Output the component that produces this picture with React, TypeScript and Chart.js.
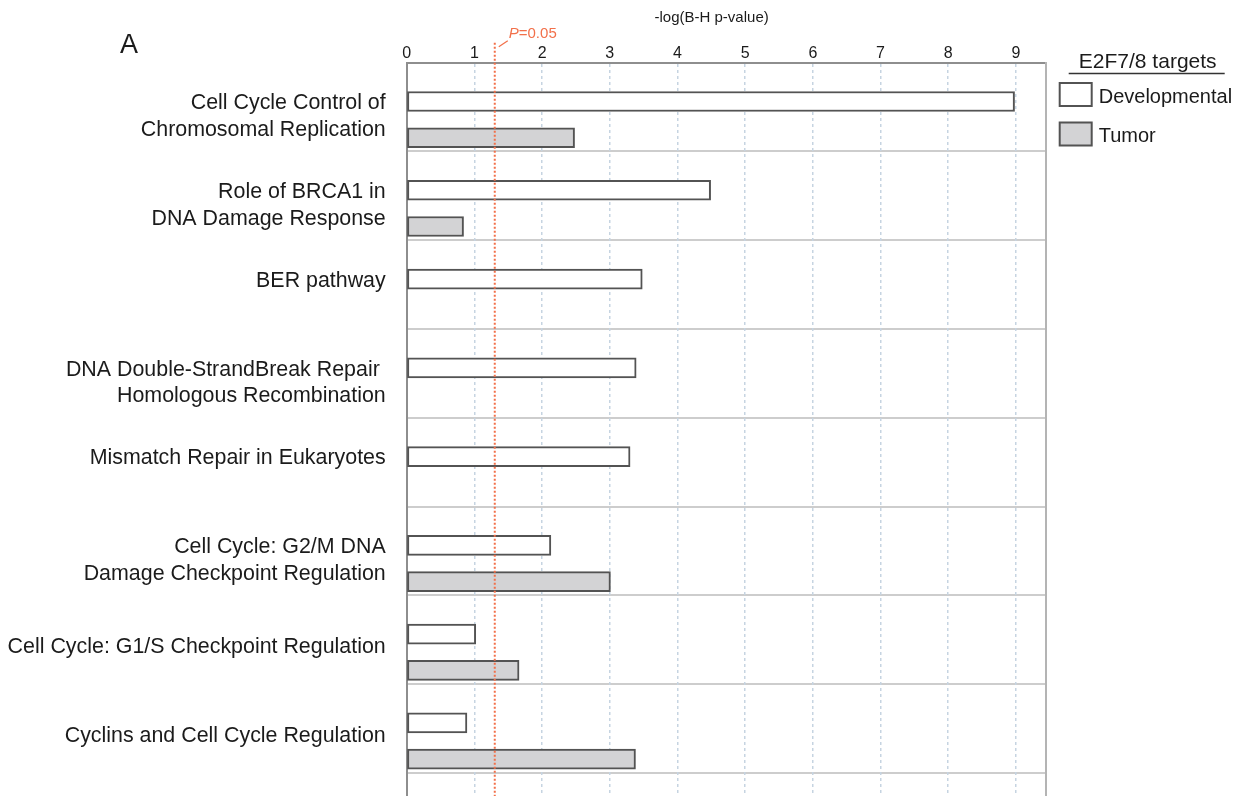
import React, { useEffect, useRef } from "react";
import { Chart, registerables } from "chart.js";

Chart.register(...registerables);

// Canonical pathways (multi-line labels) and their enrichment scores, -log(B-H p-value)
const pathways: string[][] = [
  ["Cell Cycle Control of", "Chromosomal Replication"],
  ["Role of BRCA1 in", "DNA Damage Response"],
  ["BER pathway"],
  ["DNA Double-StrandBreak Repair ", "Homologous Recombination"],
  ["Mismatch Repair in Eukaryotes"],
  ["Cell Cycle: G2/M DNA", "Damage Checkpoint Regulation"],
  ["Cell Cycle: G1/S Checkpoint Regulation"],
  ["Cyclins and Cell Cycle Regulation"],
];
const developmental: (number | null)[] = [8.98, 4.49, 3.48, 3.39, 3.3, 2.13, 1.02, 0.89];
const tumor: (number | null)[] = [2.48, 0.84, null, null, null, 3.01, 1.66, 3.38];
const seriesNames = ["Developmental", "Tumor"];
const xTicks = [0, 1, 2, 3, 4, 5, 6, 7, 8, 9];
const threshold = 1.301; // -log10(0.05)
const thresholdLabel = ["P", "=0.05"];
const axisTitle = "-log(B-H p-value)";
const legendTitle = "E2F7/8 targets";
const panelLetter = "A";

// Layout (row units on the vertical scale, pixels elsewhere)
const X_MAX = 9.44;
const Y_MAX = 8.26;
const DEV_OFFSET = 0.437;
const TUMOR_OFFSET = 0.845;
const FONT = '"Liberation Sans", Arial, Helvetica, sans-serif';
const TEXT = "#1b1b1b";
const ORANGE = "#f2704a";
const BAR_EDGE = "#535353";
const TUMOR_FILL = "#d3d3d5";

const labelPosition = (i: number) => {
  const lines = pathways[i].length;
  if (lines > 1) return i + 0.61;
  return i + (tumor[i] == null ? 0.455 : 0.58);
};

const toPoints = (values: (number | null)[], offset: number) =>
  values
    .map((v, i) => (v == null ? null : { x: v, y: i + offset }))
    .filter((p) => p !== null) as { x: number; y: number }[];

// fixes an axis' thickness and drops the label-overflow padding Chart.js adds
const fixSize = (prop: "width" | "height", size: number) => (s: any) => {
  s[prop] = size;
  s.paddingTop = 0;
  s.paddingBottom = 0;
  s.paddingLeft = 0;
  s.paddingRight = 0;
};

const rowScale = (extra: any) => ({
  type: "linear",
  reverse: true,
  min: 0,
  max: Y_MAX,
  offset: false,
  bounds: "data",
  ...extra,
});

const decorations = {
  id: "decorations",
  afterDatasetsDraw(chart: any) {
    const { ctx, chartArea, scales } = chart;
    const x = scales.x.getPixelForValue(threshold);
    ctx.save();
    // significance threshold
    ctx.strokeStyle = ORANGE;
    ctx.lineWidth = 2;
    ctx.setLineDash([2, 2]);
    ctx.beginPath();
    ctx.moveTo(x, chartArea.top - 20);
    ctx.lineTo(x, chartArea.bottom);
    ctx.stroke();
    ctx.setLineDash([]);
    ctx.lineWidth = 1.2;
    ctx.beginPath();
    ctx.moveTo(x + 4, chartArea.top - 16);
    ctx.lineTo(x + 13, chartArea.top - 22);
    ctx.stroke();
    ctx.fillStyle = ORANGE;
    ctx.textBaseline = "middle";
    ctx.textAlign = "left";
    ctx.font = `italic 15px ${FONT}`;
    const tx = x + 14;
    const ty = chartArea.top - 28.5;
    ctx.fillText(thresholdLabel[0], tx, ty);
    const w = ctx.measureText(thresholdLabel[0]).width;
    ctx.font = `15px ${FONT}`;
    ctx.fillText(thresholdLabel[1], tx + w, ty);
    ctx.restore();
  },
  afterDraw(chart: any) {
    const { ctx, chartArea } = chart;
    const lx = chartArea.right;
    ctx.save();
    // panel letter
    ctx.fillStyle = TEXT;
    ctx.font = `27px ${FONT}`;
    ctx.textAlign = "left";
    ctx.textBaseline = "alphabetic";
    ctx.fillText(panelLetter, 120, 53);

    // legend
    ctx.font = `21px ${FONT}`;
    ctx.textAlign = "center";
    ctx.textBaseline = "middle";
    ctx.fillText(legendTitle, lx + 102, 62);
    ctx.strokeStyle = "#333";
    ctx.lineWidth = 1.5;
    ctx.beginPath();
    ctx.moveTo(lx + 23, 73.5);
    ctx.lineTo(lx + 179, 73.5);
    ctx.stroke();

    chart.data.datasets.forEach((ds: any, i: number) => {
      const top = 82 + i * 39.5;
      ctx.fillStyle = ds.backgroundColor;
      ctx.fillRect(lx + 14, top + 1, 32, 23);
      ctx.strokeStyle = ds.borderColor;
      ctx.lineWidth = 2;
      ctx.strokeRect(lx + 14, top + 1, 32, 23);
      ctx.fillStyle = TEXT;
      ctx.font = `20px ${FONT}`;
      ctx.textAlign = "left";
      ctx.textBaseline = "middle";
      ctx.fillText(ds.label, lx + 53, top + 15);
    });
    ctx.restore();
  },
};

export default function App() {
  const canvasRef = useRef<HTMLCanvasElement | null>(null);

  useEffect(() => {
    if (!canvasRef.current) return;
    const chart = new Chart(canvasRef.current, {
      type: "bar",
      data: {
        datasets: [
          {
            label: seriesNames[0],
            data: toPoints(developmental, DEV_OFFSET),
            backgroundColor: "#ffffff",
            borderColor: BAR_EDGE,
            borderWidth: 2,
            borderSkipped: false,
            barThickness: 20,
            grouped: false,
            xAxisID: "x",
            yAxisID: "y",
          },
          {
            label: seriesNames[1],
            data: toPoints(tumor, TUMOR_OFFSET),
            backgroundColor: TUMOR_FILL,
            borderColor: BAR_EDGE,
            borderWidth: 2,
            borderSkipped: false,
            barThickness: 20,
            grouped: false,
            xAxisID: "x",
            yAxisID: "y",
          },
        ],
      } as any,
      options: {
        indexAxis: "y",
        animation: false,
        responsive: false,
        devicePixelRatio: 1,
        layout: { padding: { top: 0, left: 0, right: 200.3, bottom: 0 } },
        plugins: { legend: { display: false }, tooltip: { enabled: false } },
        scales: {
          y: rowScale({
            position: "left",
            weight: 0,
            afterBuildTicks: (s: any) => {
              s.ticks = pathways.map((_, i) => ({ value: i })).concat([{ value: pathways.length }]);
            },
            afterFit: fixSize("width", 0),
            ticks: { display: false },
            grid: { color: "#cdcdcd", lineWidth: 2, drawTicks: false, offset: false },
            border: { display: true, color: "#8e8e8e", width: 2 },
          }),
          x: {
            type: "linear",
            position: "top",
            min: 0,
            max: X_MAX,
            offset: false,
            afterBuildTicks: (s: any) => {
              s.ticks = xTicks.map((v) => ({ value: v }));
            },
            afterFit: fixSize("height", 62.7),
            ticks: { font: { family: FONT, size: 16 }, color: TEXT, padding: 0 },
            grid: { color: "#c6d4e1", lineWidth: 1.5, drawTicks: false, offset: false },
            border: { display: true, color: "#8e8e8e", width: 2, dash: [3, 3] },
            title: {
              display: true,
              text: axisTitle + "       ",
              font: { family: FONT, size: 15 },
              color: TEXT,
              padding: { top: 9, bottom: 0 },
            },
          },
          yLabels: rowScale({
            position: "left",
            weight: 1,
            afterBuildTicks: (s: any) => {
              s.ticks = pathways.map((_, i) => ({ value: labelPosition(i) }));
            },
            afterFit: fixSize("width", 406.7),
            ticks: {
              autoSkip: false,
              padding: 21,
              font: { family: FONT, size: 21.4, lineHeight: 1.24 },
              color: TEXT,
              callback: (_v: any, i: number) => pathways[i],
            },
            grid: { display: false, drawTicks: false, offset: false },
            border: { display: false },
          }),
          yRight: rowScale({
            position: "right",
            afterFit: fixSize("width", 0),
            ticks: { display: false },
            grid: { display: false, drawTicks: false, offset: false },
            border: { display: true, color: "#b4b4b4", width: 2 },
          }),
        },
      } as any,
      plugins: [decorations],
    });
    return () => chart.destroy();
  }, []);

  return (
    <>
      <style>{`html,body{margin:0;padding:0;overflow:hidden;background:#fff}`}</style>
      <canvas
        ref={canvasRef}
        width={1246}
        height={796}
        style={{ display: "block", width: 1246, height: 796 }}
      />
    </>
  );
}
